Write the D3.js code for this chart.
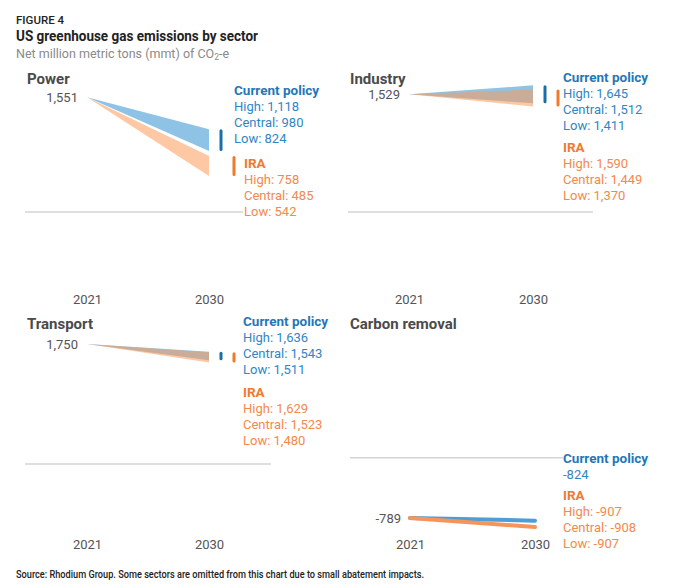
<!DOCTYPE html>
<html>
<head>
<meta charset="utf-8">
<script src="https://cdn.jsdelivr.net/npm/d3@7"></script>
<style>
  html, body { margin: 0; padding: 0; background: #fff; }
  svg { display: block; font-family: Roboto, "Open Sans", sans-serif; }
</style>
</head>
<body>
<svg id="chart" width="680" height="588"></svg>
<script>
// ---- data ----
const sectors    = ["Power", "Industry", "Transport", "Carbon removal"];
const years      = [2021, 2030];
const start2021  = [1551, 1529, 1750, -789];
const cpHigh     = [1118, 1645, 1636, -824];
const cpCentral  = [980, 1512, 1543, -824];
const cpLow      = [824, 1411, 1511, -824];
const iraHigh    = [758, 1590, 1629, -907];
const iraCentral = [485, 1449, 1523, -908];
const iraLow     = [542, 1370, 1480, -907];

// ---- layout ----
const panels = [
  { xr: [87, 209],  yr: [62, 287],  yd: [-1014, 2027], grid: [25, 243],  title: [27, 84],
    cp: [234, 95],  ira: [244, 168], ticks: true,  yearY: 304, cpShort: false },
  { xr: [409, 533], yr: [62, 287],  yd: [-974, 1948],  grid: [348, 593], title: [350, 84],
    cp: [563, 82],  ira: [563, 152], ticks: true,  yearY: 304, cpShort: false },
  { xr: [87, 209],  yr: [310, 535], yd: [-1035, 2245], grid: [25, 271],  title: [27, 329],
    cp: [243, 326], ira: [243, 397], ticks: true,  yearY: 549, cpShort: false },
  { xr: [410, 535], yr: [310, 535], yd: [-1012, 1933], grid: [350, 563], title: [350, 329],
    cp: [563, 463], ira: [563, 500], ticks: false, yearY: 549, cpShort: true }
];

const BLUE_DARK = "#1c6ea8", ORANGE_DARK = "#f07a2a";
const BLUE_FILL = "#8ec3e6", ORANGE_FILL = "#fb9b58";
const BLUE_LINE = "#4f9dd4", ORANGE_LINE = "#f7945a";
const locale = d3.formatLocale({ decimal: ".", thousands: ",", grouping: [3], currency: ["$", ""], minus: "-" });
const fmt = locale.format(",");

const svg = d3.select("#chart");

// header
svg.append("text").attr("x", 16).attr("y", 24).text("FIGURE 4")
  .attr("font-size", 11.5).attr("font-weight", 500).attr("fill", "#222");
svg.append("text").attr("x", 16).attr("y", 40.5).text("US greenhouse gas emissions by sector")
  .attr("font-size", 14.5).attr("font-weight", 700).attr("fill", "#222")
  .attr("textLength", 242).attr("lengthAdjust", "spacingAndGlyphs");
const sub = svg.append("text").attr("x", 16).attr("y", 57.5)
  .attr("font-size", 12.5).attr("fill", "#8a8a8a");
sub.append("tspan").text("Net million metric tons (mmt) of CO");
sub.append("tspan").text("2").attr("font-size", 8.5).attr("dy", 2);
sub.append("tspan").text("-e").attr("dy", -2);

// footer
svg.append("text").attr("x", 16).attr("y", 578)
  .text("Source: Rhodium Group. Some sectors are omitted from this chart due to small abatement impacts.")
  .attr("font-size", 10.5).attr("font-weight", 500).attr("fill", "#222")
  .attr("textLength", 408).attr("lengthAdjust", "spacingAndGlyphs");

sectors.forEach((name, i) => {
  const p = panels[i];
  const x = d3.scaleLinear().domain(years).range(p.xr);
  const y = d3.scaleLinear().domain(p.yd).range([p.yr[1], p.yr[0]]);
  const g = svg.append("g");

  // zero line
  g.append("line").attr("x1", p.grid[0]).attr("x2", p.grid[1])
    .attr("y1", y(0)).attr("y2", y(0))
    .attr("stroke", "#d4d4d4").attr("stroke-width", 1.5);

  // year axis labels
  const axis = d3.axisBottom(x).tickValues(years).tickFormat(d3.format("d")).tickSize(0);
  const ax = g.append("g").attr("transform", `translate(0,${p.yearY - 12})`).call(axis);
  ax.select(".domain").remove();
  ax.selectAll("text").attr("font-size", 13).attr("fill", "#555")
    .attr("font-family", "Roboto, sans-serif").attr("dy", 0).attr("y", 12);

  // title
  g.append("text").attr("x", p.title[0]).attr("y", p.title[1]).text(name)
    .attr("font-size", 15).attr("font-weight", 700).attr("fill", "#4a4a4a");

  // start value label
  g.append("text").attr("x", x(2021) - 9).attr("y", y(start2021[i]))
    .attr("dy", "0.38em").attr("text-anchor", "end")
    .attr("font-size", 13).attr("fill", "#555").text(fmt(start2021[i]));

  const cpVals = [cpHigh[i], cpCentral[i], cpLow[i]];
  const iraVals = [iraHigh[i], iraCentral[i], iraLow[i]];
  const bands = [
    { vals: cpVals, fill: BLUE_FILL, line: BLUE_LINE, op: 1 },
    { vals: iraVals, fill: ORANGE_FILL, line: ORANGE_LINE, op: 0.55 }
  ];
  const area = d3.area().x(d => x(d.year)).y0(d => y(d.lo)).y1(d => y(d.hi));
  bands.forEach(b => {
    const lo = d3.min(b.vals), hi = d3.max(b.vals);
    const pts = [{ year: 2021, lo: start2021[i], hi: start2021[i] }, { year: 2030, lo, hi }];
    if (Math.abs(y(hi) - y(lo)) < 1) {
      g.append("path").attr("d", d3.line().x(d => x(d.year)).y(d => y((d.lo + d.hi) / 2))(pts))
        .attr("fill", "none").attr("stroke", b.line).attr("stroke-width", 4)
        .attr("stroke-linecap", "round");
    } else {
      g.append("path").attr("d", area(pts)).attr("fill", b.fill).attr("fill-opacity", b.op);
    }
  });

  // range ticks at 2030
  if (p.ticks) {
    [[cpVals, BLUE_DARK, 12], [iraVals, ORANGE_DARK, 25]].forEach(([vals, col, off]) => {
      g.append("line").attr("x1", x(2030) + off).attr("x2", x(2030) + off)
        .attr("y1", y(d3.max(vals)) + 1.5).attr("y2", y(d3.min(vals)) - 1.5)
        .attr("stroke", col).attr("stroke-width", 3).attr("stroke-linecap", "round");
    });
  }

  // labels
  const lh = 16;
  const cpLines = p.cpShort ? [fmt(cpHigh[i])]
    : ["High: " + fmt(cpHigh[i]), "Central: " + fmt(cpCentral[i]), "Low: " + fmt(cpLow[i])];
  const iraLines = ["High: " + fmt(iraHigh[i]), "Central: " + fmt(iraCentral[i]), "Low: " + fmt(iraLow[i])];
  [[p.cp, "Current policy", cpLines, "#1f78b9", "#2f86c6"],
   [p.ira, "IRA", iraLines, "#ee7a30", "#f5894a"]].forEach(([pos, head, lines, hc, lc]) => {
    g.append("text").attr("x", pos[0]).attr("y", pos[1]).text(head)
      .attr("font-size", 13.5).attr("font-weight", 700).attr("fill", hc);
    lines.forEach((t, k) => {
      g.append("text").attr("x", pos[0]).attr("y", pos[1] + lh * (k + 1)).text(t)
        .attr("font-size", 13).attr("fill", lc);
    });
  });
});
</script>
</body>
</html>
